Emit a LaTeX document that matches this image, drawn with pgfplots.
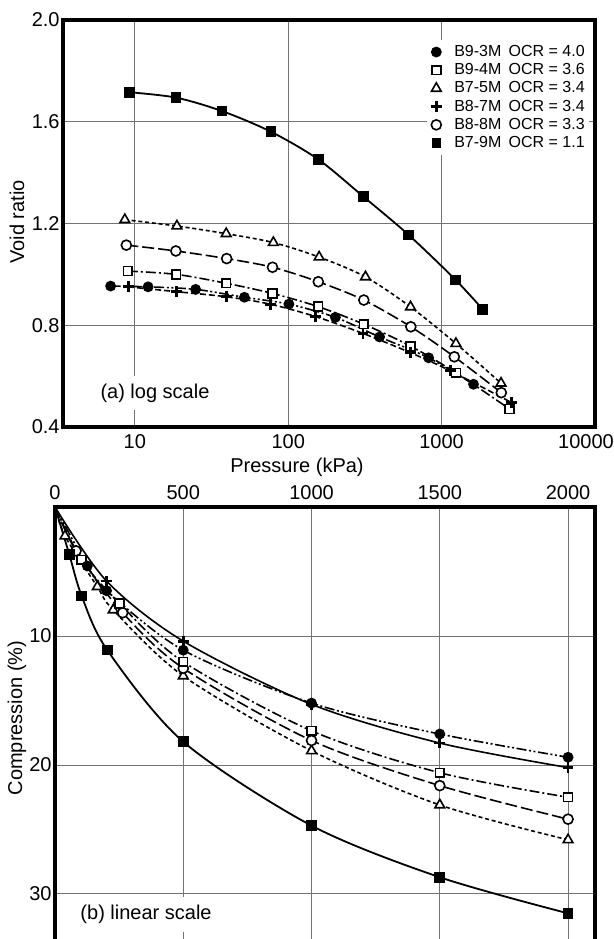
\documentclass[border=0pt]{standalone}
\usepackage{pgfplots}
\pgfplotsset{compat=1.18}
\usepackage{fontspec}
\setmainfont{Liberation Sans}
\tikzset{
 lw/.style={line width=0.8pt},
 mF/.style={mark=*, mark size=2.4pt, mark options={solid, fill=black, line width=0.6pt}},
 mS/.style={mark=square*, mark size=2.2pt, mark options={solid, fill=white, line width=0.8pt}},
 mT/.style={mark=triangle*, mark size=2.8pt, mark options={solid, fill=white, line width=0.8pt}},
 mP/.style={mark=+, mark size=2.7pt, mark options={solid, line width=1.4pt}},
 mO/.style={mark=*, mark size=2.5pt, mark options={solid, fill=white, line width=0.8pt}},
 mQ/.style={mark=square*, mark size=2.2pt, mark options={solid, fill=black}},
 lF/.style={dash pattern=on 5pt off 1.3pt on 1pt off 1.3pt on 1pt off 1.3pt},
 lS/.style={dash pattern=on 5pt off 1.5pt on 1pt off 1.5pt},
 lT/.style={dash pattern=on 2pt off 1.4pt},
 lO/.style={dash pattern=on 6pt off 2pt},
 lPt/.style={dash pattern=on 3pt off 1.5pt},
}
\pgfplotsset{
 common/.style={scale only axis, axis line style={line width=1.6pt},
  grid=major, major grid style={draw=black!55, line width=0.5pt},
  major tick length=0pt, tick style={draw=none},
  tick label style={font=\fontsize{10}{12}\selectfont},
  yticklabel style={inner sep=1.5pt},
  /pgf/number format/set thousands separator={},
  /pgf/number format/assume math mode=true},
}
\begin{document}
\begin{tikzpicture}
\useasboundingbox (0pt,0pt) rectangle (307pt,469.5pt);
% ---------- (a) log scale ----------
\begin{axis}[common, at={(31.5pt,256pt)}, anchor=south west, width=266pt, height=203.5pt,
 xmode=log, xmin=3.4, xmax=10000, ymin=0.4, ymax=2.0,
 xtick={10,100,1000}, xticklabels={10,100,1000},
 extra x ticks={10000}, extra x tick labels={10000},
 extra x tick style={grid=none, xticklabel style={xshift=-4.5pt}},
 ytick={0.4,0.8,1.2,1.6,2.0}, yticklabels={0.4,0.8,1.2,1.6,2.0},
 legend image code/.code={\path (-3pt,0pt) (8pt,0pt); \draw[#1] plot coordinates {(0pt,0pt)};},
 legend style={at={(rel axis cs:0.99,0.952)}, anchor=north east, draw=none, fill=white,
  font=\fontsize{8}{9}\selectfont, row sep=0pt, inner sep=1.5pt,
  nodes={inner sep=0.8pt, text height=6pt, text depth=1.5pt}},
 legend cell align=left]
\addplot[forget plot, lw, lT, mT, smooth] coordinates {(8.6,1.215)(18.8,1.19)(39.4,1.16)(80,1.125)(159,1.068)(319,0.99)(627,0.872)(1240,0.728)(2440,0.572)};
\addplot[forget plot, lw, lO, mO, smooth] coordinates {(8.8,1.115)(18.5,1.092)(39.7,1.062)(79,1.028)(157,0.971)(311,0.899)(630,0.794)(1210,0.676)(2450,0.535)};
\addplot[forget plot, lw, lS, mS, smooth] coordinates {(9.0,1.013)(18.6,1.0)(39.4,0.965)(79,0.925)(157,0.873)(311,0.804)(627,0.718)(1240,0.613)(2770,0.471)};
\addplot[forget plot, lw, lPt, mP, smooth] coordinates {(9.05,0.951)(18.65,0.932)(39.4,0.912)(76.2,0.883)(151,0.834)(307,0.768)(627,0.692)(1139,0.621)(2861,0.496)};
\addplot[forget plot, lw, lF, mF, smooth] coordinates {(6.95,0.954)(12.2,0.951)(24.9,0.941)(51.8,0.91)(101,0.883)(203,0.831)(394,0.754)(823,0.672)(1614,0.568)};
\addplot[forget plot, line width=0.9pt, mQ, smooth] coordinates {(9.2,1.716)(18.5,1.695)(37,1.642)(77,1.561)(157,1.452)(310,1.305)(610,1.155)(1235,0.978)(1850,0.863)};
\addlegendimage{mF}\addlegendentry{B9-3M\hspace{0.45em}OCR = 4.0}
\addlegendimage{mS}\addlegendentry{B9-4M\hspace{0.45em}OCR = 3.6}
\addlegendimage{mT}\addlegendentry{B7-5M\hspace{0.45em}OCR = 3.4}
\addlegendimage{mP}\addlegendentry{B8-7M\hspace{0.45em}OCR = 3.4}
\addlegendimage{mO}\addlegendentry{B8-8M\hspace{0.45em}OCR = 3.3}
\addlegendimage{mQ}\addlegendentry{B7-9M\hspace{0.45em}OCR = 1.1}
\node[fill=white, inner xsep=1pt, inner ysep=4pt, anchor=west, font=\fontsize{10}{12}\selectfont] at (rel axis cs:0.066,0.0835) {(a) log scale};
\end{axis}
% ---------- (b) linear scale ----------
\begin{axis}[common, at={(27.5pt,216pt)}, anchor=north west, width=270pt, height=219.3pt,
 xmin=0, xmax=2105, ymin=0, ymax=34, y dir=reverse,
 xtick={0,500,1000,1500,2000}, xticklabels={0,500,1000,1500,2000}, ytick={10,20,30},
 xticklabel pos=upper]
\addplot[lw, lT, mT, smooth, mark indices={2,...,8}] coordinates {(0,0)(39,2.25)(165,6.18)(227,7.98)(500,13.1)(1000,18.9)(1500,23.1)(2000,25.8)};
\addplot[lw, lO, mO, smooth, mark indices={2,...,7}] coordinates {(0,0)(82,3.4)(264,8.2)(500,12.5)(1000,18.1)(1500,21.6)(2000,24.2)};
\addplot[lw, lS, mS, smooth, mark indices={2,...,7}] coordinates {(0,0)(104,4.1)(251,7.47)(500,12.0)(1000,17.35)(1500,20.6)(2000,22.5)};
\addplot[lw, lF, mF, smooth, mark indices={2,...,7}] coordinates {(0,0)(126,4.57)(201,6.49)(500,11.1)(1000,15.2)(1500,17.6)(2000,19.4)};
\addplot[lw, mP, smooth, mark indices={2,...,6}] coordinates {(0,0)(201,5.74)(500,10.4)(1000,15.3)(1500,18.3)(2000,20.2)};
\addplot[line width=0.9pt, mQ, smooth, mark indices={2,...,8}] coordinates {(0,0)(56,3.7)(104,6.9)(204,11.1)(500,18.2)(1000,24.7)(1500,28.7)(2000,31.5)};
\node[fill=white, inner xsep=1pt, inner ysep=4pt, anchor=west, font=\fontsize{10}{12}\selectfont] at (axis cs:90,31.6) {(b) linear scale};
\end{axis}
\node[font=\fontsize{10}{12}\selectfont] at (148.5pt,236pt) {Pressure (kPa)};
\node[font=\fontsize{10}{12}\selectfont, rotate=90] at (8.5pt,358.5pt) {Void ratio};
\node[font=\fontsize{10}{12}\selectfont, rotate=90] at (8.5pt,110.5pt) {Compression (\%)};
\end{tikzpicture}
\end{document}
